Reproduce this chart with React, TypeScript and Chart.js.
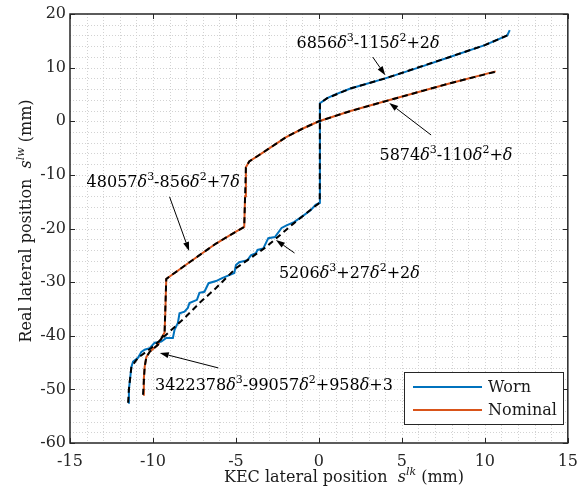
import React, { useEffect, useRef } from "react";
import { Chart, registerables } from "chart.js";
Chart.register(...registerables);

const FONT = "'DejaVu Serif', serif";
const TEXT_COLOR = "#1a1a1a";
const AXIS_COLOR = "#262626";

// ---- Data ----
const wornX = [-11.5, -11.45, -11.3, -11.2, -10.9, -10.7, -10.5, -10.2, -9.9, -9.5, -9.2, -8.8, -8.7, -8.5, -8.4, -8.1, -7.9, -7.8, -7.35, -7.2, -6.9, -6.65, -6.2, -5.8, -5.4, -5.1, -5.0, -4.8, -4.3, -4.1, -3.8, -3.7, -3.35, -3.05, -2.65, -2.25, -1.95, -1.5, -0.9, -0.5, -0.2, 0.05, 0.06, 0.5, 1.0, 1.9, 4.0, 6.0, 7.8, 10.0, 11.35, 11.5];
const wornY = [-52.5, -50.0, -45.8, -44.8, -44.1, -43.0, -42.6, -42.3, -41.3, -41.1, -40.4, -40.4, -38.9, -37.6, -35.8, -35.5, -34.8, -33.9, -33.3, -32.0, -31.8, -30.2, -29.8, -29.2, -28.7, -28.3, -26.8, -26.3, -25.9, -25.0, -24.6, -24.0, -23.7, -21.8, -21.6, -19.9, -19.4, -18.8, -17.5, -16.6, -15.6, -15.2, 3.35, 4.3, 5.0, 6.1, 8.0, 10.0, 11.9, 14.2, 16.0, 17.0];

const nominalX = [-10.6, -10.55, -10.5, -10.4, -10.2, -9.7, -9.3, -9.25, -9.2, -7.8, -6.2, -5.0, -4.5, -4.45, -4.4, -4.2, -3.4, -2.0, -1.0, 0.0, 1.9, 4.2, 7.8, 10.65];
const nominalY = [-51.0, -48.0, -45.8, -44.0, -43.0, -41.7, -39.4, -35.0, -29.4, -26.3, -22.8, -20.6, -19.7, -14.0, -8.6, -7.5, -5.9, -3.0, -1.4, 0.0, 1.9, 3.9, 7.0, 9.3];

const wornFitX = [-11.5, -11.45, -11.3, -10.9, -10.1, -9.1, -8.1, -7.2, -6.2, -5.0, -3.2, -1.5, -0.3, 0.05, 0.06, 0.5, 1.9, 4.0, 7.8, 10.0, 11.35];
const wornFitY = [-52.5, -50.0, -45.8, -44.1, -42.3, -39.5, -36.7, -33.9, -31.1, -27.4, -23.5, -19.0, -16.0, -15.2, 3.35, 4.3, 6.1, 8.0, 11.9, 14.2, 16.0];

const nominalFitX = [-10.6, -10.5, -10.4, -10.2, -9.7, -9.3, -9.2, -7.8, -6.2, -5.0, -4.5, -4.4, -4.2, -3.4, -2.0, -1.0, 0.0, 1.9, 4.2, 7.8, 10.6];
const nominalFitY = [-51.0, -45.8, -44.0, -43.0, -41.7, -39.4, -29.4, -26.3, -22.8, -20.6, -19.7, -8.6, -7.5, -5.9, -3.0, -1.4, 0.0, 1.9, 3.9, 7.0, 9.2];

const xTicks = [-15, -10, -5, 0, 5, 10, 15];
const yTicks = [-60, -50, -40, -30, -20, -10, 0, 10, 20];
const legendLabels = ["Worn", "Nominal"];

// annotations: text (δ italic, ^ superscript), text anchor (left, baseline) and arrow tail/head in data units
const annoText = ["6856δ^3-115δ^2+2δ", "5874δ^3-110δ^2+δ", "48057δ^3-856δ^2+7δ", "5206δ^3+27δ^2+2δ", "3422378δ^3-99057δ^2+958δ+3"];
const annoX = [-1.35, 3.65, -14.0, -2.41, -9.88];
const annoY = [13.65, -7.2, -12.3, -29.2, -50.1];
const arrowFromX = [3.24, 6.76, -9.0, -1.47, -6.06];
const arrowFromY = [11.98, -2.56, -14.1, -24.57, -46.0];
const arrowToX = [4.0, 4.24, -7.82, -2.59, -9.59];
const arrowToY = [8.6, 3.4, -24.2, -22.14, -43.2];

const xTitle = "KEC lateral position  $s^{lk}$ (mm)";
const yTitle = "Real lateral position  $s^{lw}$ (mm)";

const toPts = (xs: number[], ys: number[]) => xs.map((x, i) => ({ x, y: ys[i] }));

type Seg = { t: string; it: boolean; sup: boolean; w?: number };
function parseRich(s: string): Seg[] {
  const out: Seg[] = [];
  let it = false;
  let i = 0;
  while (i < s.length) {
    const c = s[i];
    if (c === "$") { it = !it; i++; continue; }
    if (c === "^") {
      i++;
      if (s[i] === "{") {
        const j = s.indexOf("}", i);
        out.push({ t: s.slice(i + 1, j), it, sup: true });
        i = j + 1;
      } else {
        out.push({ t: s[i], it: it || s[i] === "δ", sup: true });
        i++;
      }
      continue;
    }
    out.push({ t: c, it: it || c === "δ", sup: false });
    i++;
  }
  return out;
}

function drawRich(ctx: CanvasRenderingContext2D, str: string, x: number, y: number, size: number, align: "left" | "center") {
  const segs = parseRich(str);
  const fontOf = (s: Seg) => `${s.it ? "italic " : ""}${s.sup ? Math.round(size * 0.68) : size}px ${FONT}`;
  let total = 0;
  for (const s of segs) {
    ctx.font = fontOf(s);
    s.w = ctx.measureText(s.t).width;
    total += s.w;
  }
  let cx = align === "center" ? x - total / 2 : x;
  ctx.textAlign = "left";
  ctx.textBaseline = "alphabetic";
  for (const s of segs) {
    ctx.font = fontOf(s);
    ctx.fillText(s.t, cx, s.sup ? y - size * 0.42 : y);
    cx += s.w || 0;
  }
}

const decorPlugin = {
  id: "decor",
  beforeDatasetsDraw(chart: any) {
    const { ctx, chartArea: a, scales } = chart;
    const xs = scales.x, ys = scales.y;
    ctx.save();
    ctx.strokeStyle = "#d2d2d2";
    ctx.lineWidth = 1;
    ctx.setLineDash([1, 2]);
    for (let v = xs.min + 1; v < xs.max; v += 1) {
      const px = Math.round(xs.getPixelForValue(v)) + 0.5;
      ctx.beginPath(); ctx.moveTo(px, a.top); ctx.lineTo(px, a.bottom); ctx.stroke();
    }
    for (let v = ys.min + 2; v < ys.max; v += 2) {
      const py = Math.round(ys.getPixelForValue(v)) + 0.5;
      ctx.beginPath(); ctx.moveTo(a.left, py); ctx.lineTo(a.right, py); ctx.stroke();
    }
    ctx.restore();
  },
  afterDraw(chart: any) {
    const { ctx, chartArea: a, scales } = chart;
    const xs = scales.x, ys = scales.y;
    ctx.save();
    // box & inward ticks
    ctx.strokeStyle = AXIS_COLOR;
    ctx.lineWidth = 1.5;
    ctx.setLineDash([]);
    ctx.strokeRect(a.left, a.top, a.right - a.left, a.bottom - a.top);
    ctx.lineWidth = 1;
    const tl = 5;
    for (const v of xTicks) {
      const px = Math.round(xs.getPixelForValue(v)) + 0.5;
      ctx.beginPath();
      ctx.moveTo(px, a.bottom); ctx.lineTo(px, a.bottom - tl);
      ctx.moveTo(px, a.top); ctx.lineTo(px, a.top + tl);
      ctx.stroke();
    }
    for (const v of yTicks) {
      const py = Math.round(ys.getPixelForValue(v)) + 0.5;
      ctx.beginPath();
      ctx.moveTo(a.left, py); ctx.lineTo(a.left + tl, py);
      ctx.moveTo(a.right, py); ctx.lineTo(a.right - tl, py);
      ctx.stroke();
    }
    // annotations
    ctx.fillStyle = "#000";
    ctx.strokeStyle = "#000";
    for (let i = 0; i < annoText.length; i++) {
      drawRich(ctx, annoText[i], xs.getPixelForValue(annoX[i]), ys.getPixelForValue(annoY[i]), 16, "left");
      const x1 = xs.getPixelForValue(arrowFromX[i]), y1 = ys.getPixelForValue(arrowFromY[i]);
      const x2 = xs.getPixelForValue(arrowToX[i]), y2 = ys.getPixelForValue(arrowToY[i]);
      const ang = Math.atan2(y2 - y1, x2 - x1);
      const L = 9, H = 3;
      const bx = x2 - L * Math.cos(ang), by = y2 - L * Math.sin(ang);
      ctx.lineWidth = 1;
      ctx.beginPath(); ctx.moveTo(x1, y1); ctx.lineTo(bx, by); ctx.stroke();
      ctx.beginPath();
      ctx.moveTo(x2, y2);
      ctx.lineTo(bx + H * Math.sin(ang), by - H * Math.cos(ang));
      ctx.lineTo(bx - H * Math.sin(ang), by + H * Math.cos(ang));
      ctx.closePath(); ctx.fill();
    }
    // legend
    const lx = 404, ly = 372, lw = 159, lh = 52;
    ctx.fillStyle = "#fff";
    ctx.fillRect(lx, ly, lw, lh);
    ctx.strokeStyle = AXIS_COLOR;
    ctx.lineWidth = 1;
    ctx.strokeRect(lx + 0.5, ly + 0.5, lw, lh);
    const legendColors = [chart.data.datasets[2].borderColor, chart.data.datasets[3].borderColor];
    legendLabels.forEach((lab, i) => {
      const yy = ly + 15 + i * 23;
      ctx.strokeStyle = legendColors[i];
      ctx.lineWidth = 2;
      ctx.beginPath(); ctx.moveTo(lx + 9, yy); ctx.lineTo(lx + 78, yy); ctx.stroke();
      ctx.fillStyle = TEXT_COLOR;
      ctx.font = `16px ${FONT}`;
      ctx.textAlign = "left";
      ctx.textBaseline = "middle";
      ctx.fillText(lab, lx + 84, yy + 1);
    });
    // axis titles
    ctx.fillStyle = TEXT_COLOR;
    drawRich(ctx, xTitle, 344, 482, 16, "center");
    ctx.translate(31, 221);
    ctx.rotate(-Math.PI / 2);
    drawRich(ctx, yTitle, 0, 0, 16, "center");
    ctx.restore();
  },
};

export default function App() {
  const ref = useRef<HTMLCanvasElement | null>(null);
  useEffect(() => {
    document.body.style.margin = "0";
    const canvas = ref.current!;
    const chart = new Chart(canvas, {
      type: "scatter",
      data: {
        datasets: [
          { label: "fitW", data: toPts(wornFitX, wornFitY), showLine: true, borderColor: "#000", borderWidth: 2, borderDash: [6, 4], pointRadius: 0, order: 0, tension: 0 },
          { label: "fitN", data: toPts(nominalFitX, nominalFitY), showLine: true, borderColor: "#000", borderWidth: 2, borderDash: [6, 4], pointRadius: 0, order: 0, tension: 0 },
          { label: legendLabels[0], data: toPts(wornX, wornY), showLine: true, borderColor: "#0072BD", borderWidth: 2, pointRadius: 0, order: 1 },
          { label: legendLabels[1], data: toPts(nominalX, nominalY), showLine: true, borderColor: "#D95319", borderWidth: 2, pointRadius: 0, order: 1 },
        ],
      },
      options: {
        animation: false,
        responsive: false,
        devicePixelRatio: 1,
        layout: { padding: { left: 0, right: 7, top: 14, bottom: 0 } },
        plugins: { legend: { display: false }, tooltip: { enabled: false } },
        scales: {
          x: {
            type: "linear", min: -15, max: 15,
            afterFit: (s: any) => { s.height = 47; },
            afterBuildTicks: (s: any) => { s.ticks = xTicks.map((v) => ({ value: v })); },
            ticks: { font: { family: FONT, size: 16 }, color: AXIS_COLOR, padding: 9, maxRotation: 0, autoSkip: false },
            grid: { display: false, drawTicks: false },
            border: { display: false },
          },
          y: {
            type: "linear", min: -60, max: 20,
            afterFit: (s: any) => { s.width = 70; },
            afterBuildTicks: (s: any) => { s.ticks = yTicks.map((v) => ({ value: v })); },
            ticks: { font: { family: FONT, size: 16 }, color: AXIS_COLOR, padding: 4, autoSkip: false },
            grid: { display: false, drawTicks: false },
            border: { display: false },
          },
        },
      },
      plugins: [decorPlugin],
    } as any);
    return () => chart.destroy();
  }, []);
  return (
    <div style={{ width: 587, height: 490, position: "relative" }}>
      <canvas ref={ref} width={587} height={490} style={{ display: "block" }} />
    </div>
  );
}
